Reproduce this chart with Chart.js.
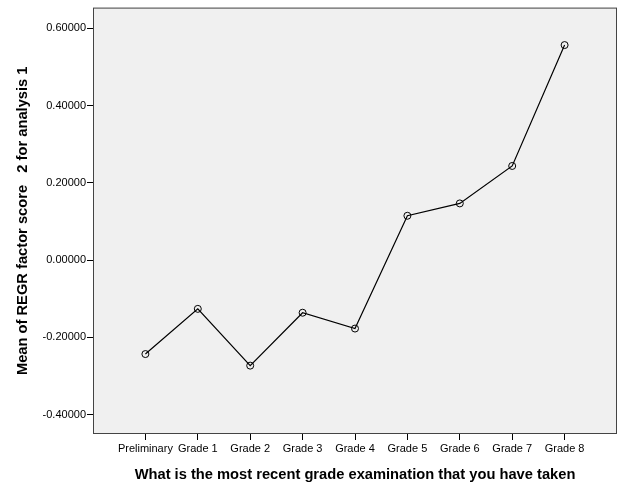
<!DOCTYPE html>
<html>
<head>
<meta charset="utf-8">
<script src="https://cdn.jsdelivr.net/npm/chart.js@4/dist/chart.umd.min.js"></script>
<style>
html,body{margin:0;padding:0;background:#fff;}
#wrap{width:626px;height:501px;}
</style>
</head>
<body>
<div id="wrap"><canvas id="c" width="626" height="501"></canvas></div>
<script>
const categories = ['Preliminary','Grade 1','Grade 2','Grade 3','Grade 4','Grade 5','Grade 6','Grade 7','Grade 8'];
const meanScores = [-0.243, -0.126, -0.273, -0.136, -0.177, 0.115, 0.147, 0.244, 0.557];
const yTickValues = [-0.4, -0.2, 0, 0.2, 0.4, 0.6];

const framePlugin = {
  id: 'frame',
  beforeDraw(chart) {
    const {ctx, chartArea: a} = chart;
    ctx.save();
    ctx.fillStyle = '#F0F0F0';
    ctx.fillRect(a.left, a.top, a.right - a.left, a.bottom - a.top);
    ctx.restore();
  },
  afterDraw(chart) {
    const {ctx, chartArea: a} = chart;
    ctx.save();
    ctx.strokeStyle = '#444444';
    ctx.lineWidth = 1;
    ctx.strokeRect(a.left + 0.5, a.top + 0.5, a.right - a.left - 1, a.bottom - a.top - 1);
    ctx.restore();
  }
};

new Chart(document.getElementById('c'), {
  type: 'line',
  data: {
    datasets: [{
      data: meanScores.map((v, i) => ({x: i, y: v})),
      borderColor: '#000',
      borderWidth: 1.2,
      pointRadius: 3.5,
      pointBorderWidth: 1,
      pointBorderColor: '#000',
      pointBackgroundColor: 'rgba(0,0,0,0)',
      tension: 0,
      fill: false
    }]
  },
  options: {
    responsive: false,
    animation: false,
    devicePixelRatio: 1,
    layout: {padding: {top: 5, right: 9, left: 0, bottom: 0}},
    plugins: {legend: {display: false}, tooltip: {enabled: false}},
    scales: {
      x: {
        type: 'linear',
        min: -1,
        max: 9,
        afterBuildTicks: s => { s.ticks = categories.map((c, i) => ({value: i})); },
        afterFit: s => { s.height = 67; },
        ticks: {
          callback: v => categories[v],
          color: '#000',
          font: {family: 'Liberation Sans, Arial, sans-serif', size: 11},
          padding: 2,
          maxRotation: 0,
          autoSkip: false
        },
        grid: {drawOnChartArea: false, tickLength: 6, color: '#000', tickColor: '#000'},
        border: {display: false},
        title: {
          display: true,
          text: 'What is the most recent grade examination that you have taken',
          color: '#000',
          font: {family: 'Liberation Sans, Arial, sans-serif', size: 14.7, weight: 'bold'},
          padding: {top: 0, bottom: 17}
        }
      },
      y: {
        min: -0.45,
        max: 0.654,
        afterBuildTicks: s => { s.ticks = yTickValues.map(v => ({value: v})); },
        afterFit: s => { s.width = 93; },
        ticks: {
          callback: v => v.toFixed(5),
          color: '#000',
          font: {family: 'Liberation Sans, Arial, sans-serif', size: 11},
          padding: 1
        },
        grid: {drawOnChartArea: false, tickLength: 6, color: '#000', tickColor: '#000'},
        border: {display: false},
        title: {
          display: true,
          text: 'Mean of REGR factor score   2 for analysis 1',
          color: '#000',
          font: {family: 'Liberation Sans, Arial, sans-serif', size: 14.7, weight: 'bold'},
          padding: {top: 14, bottom: 0}
        }
      }
    }
  },
  plugins: [framePlugin]
});
</script>
</body>
</html>
